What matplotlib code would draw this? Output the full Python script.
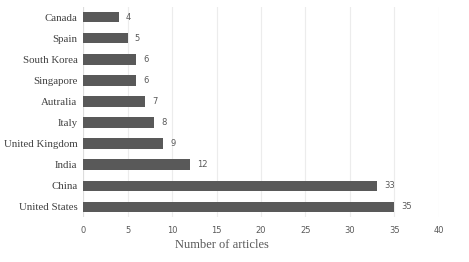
import matplotlib
matplotlib.use("Agg")
import matplotlib.pyplot as plt

countries = ["United States", "China", "India", "United Kingdom", "Italy",
             "Autralia", "Singapore", "South Korea", "Spain", "Canada"]
articles = [35, 33, 12, 9, 8, 7, 6, 6, 5, 4]
x_ticks = [0, 5, 10, 15, 20, 25, 30, 35, 40]

fig = plt.figure(figsize=(4.69, 2.62), dpi=100)
ax = fig.add_axes([0.177, 0.17, 0.759, 0.805])

ypos = range(len(countries))
ax.barh(ypos, articles, height=0.5, color="#595959", zorder=3)

for y, v in zip(ypos, articles):
    ax.text(v + 0.8, y, str(v), va="center", ha="left", fontsize=6,
            color="#595959", family="DejaVu Sans")

ax.set_yticks(list(ypos))
ax.set_yticklabels(countries, family="Liberation Serif", fontsize=7.8, color="#404040")
ax.set_xticks(x_ticks)
ax.set_xticklabels([str(t) for t in x_ticks], fontsize=6, color="#595959")
ax.set_xlim(0, 40)
ax.set_ylim(-0.5, 9.5)
ax.tick_params(length=0, pad=4)
ax.tick_params(axis="x", pad=6)
ax.grid(axis="x", color="#ececec", linewidth=0.8, zorder=0)
for s in ax.spines.values():
    s.set_visible(False)
ax.axvline(0, color="#dddddd", linewidth=0.8, zorder=2)

ax.set_xlabel("Number of articles", family="Liberation Serif", fontsize=9,
              color="#595959", labelpad=2)
ax.xaxis.set_label_coords(0.39, -0.1)

fig.savefig("out.png", dpi=100)
